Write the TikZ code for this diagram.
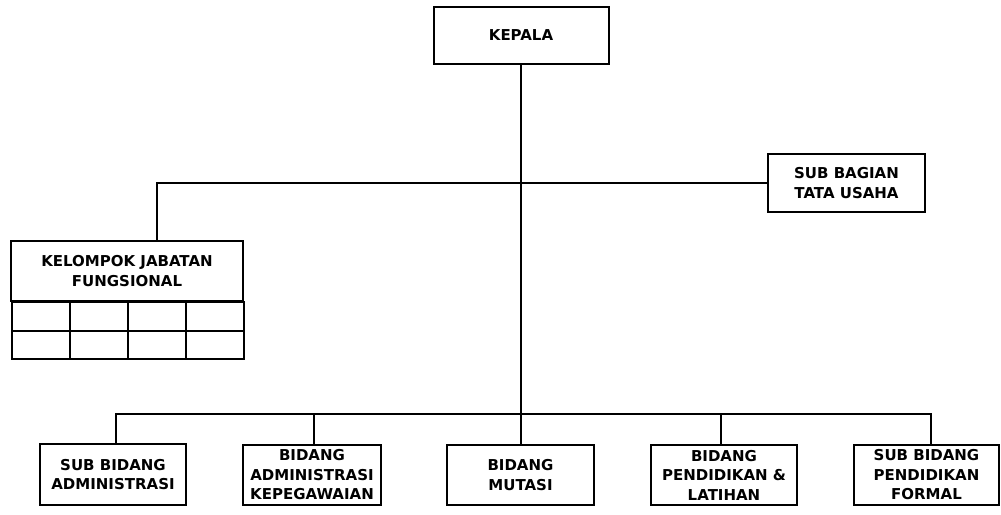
\documentclass[tikz,border=0pt]{standalone}
\usepackage{fontspec}
\setmainfont{DejaVu Sans}
\begin{document}
\begin{tikzpicture}[x=1pt,y=-1pt,
  line width=2pt,
  orgbox/.style={draw, line width=2pt, align=center, inner sep=0pt,
    font=\fontsize{15}{19.5}\selectfont\bfseries},
  cell/.style={draw, line width=2pt, inner sep=0pt, minimum width=58pt, minimum height=28.5pt, anchor=north west},
  conn/.style={draw, line width=2pt}]
\useasboundingbox (0,0) rectangle (1001,514);
\fill[white] (0,0) rectangle (1001,514);
% top
\node[orgbox, minimum width=175pt, minimum height=57pt] (kepala) at (521,35.5) {KEPALA};
\node[orgbox, minimum width=157pt, minimum height=58pt] (tu) at (846.5,183) {SUB BAGIAN\\TATA USAHA};
\node[orgbox, minimum width=232pt, minimum height=60pt] (kjf) at (127,271) {KELOMPOK JABATAN\\FUNGSIONAL};
\foreach \i in {0,1,2,3}{
  \foreach \j in {0,1}{
    \node[cell] (c\i\j) at (11+58*\i, 301+28.5*\j) {};
  }
}
% bottom
\node[orgbox, minimum width=146pt, minimum height=61pt] (b1) at (113,474.5) {SUB BIDANG\\ADMINISTRASI};
\node[orgbox, minimum width=138pt, minimum height=60pt] (b2) at (312,475) {BIDANG\\ADMINISTRASI\\KEPEGAWAIAN};
\node[orgbox, minimum width=147pt, minimum height=60pt] (b3) at (520.5,475) {BIDANG\\MUTASI};
\node[orgbox, minimum width=146pt, minimum height=60pt] (b4) at (724,475) {BIDANG\\PENDIDIKAN \&\\LATIHAN};
\node[orgbox, minimum width=145pt, minimum height=60pt] (b5) at (926.5,475) {SUB BIDANG\\PENDIDIKAN\\FORMAL};
% connectors
\draw[conn] (kepala.south) -- ([xshift=0.5pt]b3.north);
\draw[conn] ([xshift=30pt]kjf.north) |- (tu.west);
\draw[conn] ([xshift=3pt]b1.north) -- ++(0,-29) -| ([xshift=4.5pt]b5.north);
\draw[conn] ([xshift=2pt]b2.north) -- ++(0,-29);
\draw[conn] ([xshift=-3pt]b4.north) -- ++(0,-29);
\end{tikzpicture}
\end{document}
